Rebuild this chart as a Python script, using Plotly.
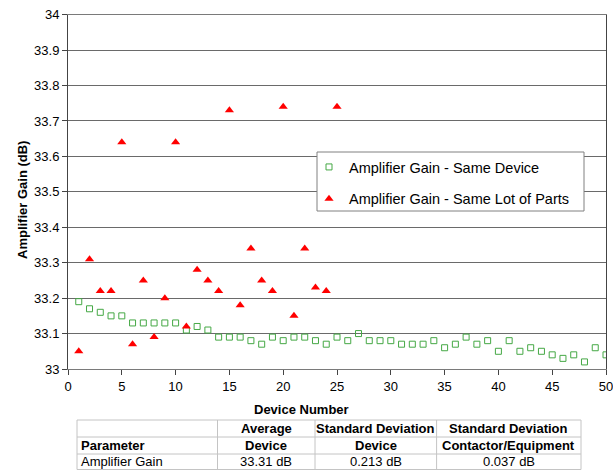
import plotly.graph_objects as go

W, H = 613, 471

device_x = list(range(1, 51))
same_device = [33.19, 33.17, 33.16, 33.15, 33.15, 33.13, 33.13, 33.13, 33.13, 33.13,
               33.11, 33.12, 33.11, 33.09, 33.09, 33.09, 33.08, 33.07, 33.09, 33.08,
               33.09, 33.09, 33.08, 33.07, 33.09, 33.08, 33.10, 33.08, 33.08, 33.08,
               33.07, 33.07, 33.07, 33.08, 33.06, 33.07, 33.09, 33.07, 33.08, 33.05,
               33.08, 33.05, 33.06, 33.05, 33.04, 33.03, 33.04, 33.02, 33.06, 33.04]
lot_x = list(range(1, 26))
same_lot = [33.05, 33.31, 33.22, 33.22, 33.64, 33.07, 33.25, 33.09, 33.20, 33.64,
            33.12, 33.28, 33.25, 33.22, 33.73, 33.18, 33.34, 33.25, 33.22, 33.74,
            33.15, 33.34, 33.23, 33.22, 33.74]

series_names = ["Amplifier Gain - Same Device", "Amplifier Gain - Same Lot of Parts"]

# table contents (rows)
table_row1 = ["", "Average", "Standard Deviation", "Standard Deviation"]
table_row2 = ["Parameter", "Device", "Device", "Contactor/Equipment"]
table_row3 = ["Amplifier Gain", "33.31 dB", "0.213 dB", "0.037 dB"]
table_rows = [table_row1, table_row2, table_row3]
table_bold = [True, True, False]

FONT = "Arial, Liberation Sans, sans-serif"

# pixel geometry (layout only)
px_left, px_right = 68, 606
px_top, px_bottom = 14.7, 369
tab_cols = [77, 217.5, 315, 436.6, 581]
tab_rows = [420, 437, 454, 469.5]


def fx(p):
    return p / W


def fy(p):
    return 1 - p / H


fig = go.Figure()
fig.add_trace(go.Scatter(
    x=device_x, y=same_device, mode="markers", name=series_names[0],
    legendgroup="a",
    marker=dict(symbol="square-open", size=6, color="#45a845", line=dict(width=1)),
))
fig.add_trace(go.Scatter(
    x=lot_x, y=same_lot, mode="markers", name=series_names[1],
    legendgroup="b",
    marker=dict(symbol="triangle-up", size=8, color="#ff0000"),
))

shapes = [dict(type="rect", xref="paper", yref="paper",
               x0=fx(317), x1=fx(584), y0=fy(211), y1=fy(152),
               fillcolor="white", line=dict(color="#808080", width=1), layer="above")]
annotations = [
    dict(text="<b>Device Number</b>", xref="paper", yref="paper",
         x=fx(301), y=fy(409), xanchor="center", yanchor="middle", showarrow=False,
         font=dict(family=FONT, size=13, color="black")),
    dict(text="<b>Amplifier Gain (dB)</b>", xref="paper", yref="paper",
         x=fx(22), y=fy(200), xanchor="center", yanchor="middle", showarrow=False,
         textangle=-90, font=dict(family=FONT, size=13, color="black")),
]

# table grid
tab_line = dict(color="#c4c4c4", width=1)
for yp in tab_rows:
    shapes.append(dict(type="line", xref="paper", yref="paper",
                       x0=fx(tab_cols[0]), x1=fx(tab_cols[-1]), y0=fy(yp), y1=fy(yp),
                       line=tab_line))
for xp in tab_cols:
    shapes.append(dict(type="line", xref="paper", yref="paper",
                       x0=fx(xp), x1=fx(xp), y0=fy(tab_rows[0]), y1=fy(tab_rows[-1]),
                       line=tab_line))
for r, row in enumerate(table_rows):
    yc = (tab_rows[r] + tab_rows[r + 1]) / 2
    for c, txt in enumerate(row):
        if not txt:
            continue
        t = f"<b>{txt}</b>" if table_bold[r] else txt
        if c == 0:
            xa, anchor = tab_cols[0] + 2, "left"
        else:
            xa, anchor = (tab_cols[c] + tab_cols[c + 1]) / 2, "center"
        annotations.append(dict(text=t, xref="paper", yref="paper", x=fx(xa), y=fy(yc),
                                xanchor=anchor, yanchor="middle", showarrow=False,
                                font=dict(family=FONT, size=13, color="black")))

fig.update_layout(
    width=W, height=H,
    template="none",
    margin=dict(l=0, r=0, t=0, b=0),
    paper_bgcolor="white", plot_bgcolor="white",
    font=dict(family=FONT, size=13, color="black"),
    showlegend=True,
    legend=dict(x=fx(309), y=fy(151), xanchor="left", yanchor="top",
                bgcolor="rgba(0,0,0,0)", borderwidth=0,
                tracegroupgap=10, traceorder="grouped",
                font=dict(family=FONT, size=14.5, color="black")),
    xaxis=dict(domain=[fx(px_left), fx(px_right)], range=[0, 50], dtick=5, tick0=0,
               showgrid=False, zeroline=False, showline=True, mirror=True,
               linecolor="#7a7a7a", linewidth=1,
               ticks="outside", ticklen=5, tickcolor="#444444",
               ticklabeloverflow="allow",
               tickfont=dict(family=FONT, size=13, color="black"), automargin=False),
    yaxis=dict(domain=[fy(px_bottom), fy(px_top)], range=[33, 34], dtick=0.1, tick0=33,
               showgrid=True, gridcolor="#6a6a6a", gridwidth=1,
               zeroline=False, showline=True, mirror=True,
               linecolor="#444444", linewidth=1,
               ticks="outside", ticklen=5, tickcolor="#444444",
               tickfont=dict(family=FONT, size=13, color="black"), automargin=False),
    shapes=shapes,
    annotations=annotations,
)

fig.write_html("out.html")
